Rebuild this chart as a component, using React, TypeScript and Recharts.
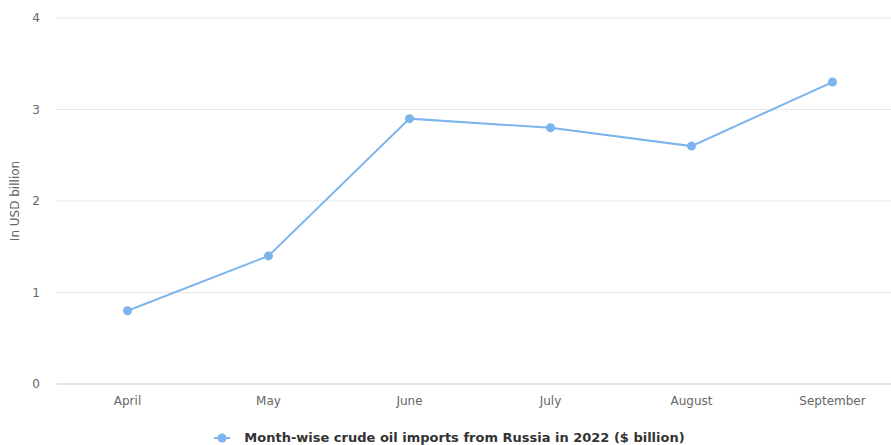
import { LineChart, Line, XAxis, YAxis, CartesianGrid, Legend } from "recharts";

const months = ["April", "May", "June", "July", "August", "September"];
const imports = [0.8, 1.4, 2.9, 2.8, 2.6, 3.3];
const yTicks = [0, 1, 2, 3, 4];
const seriesName = "Month-wise crude oil imports from Russia in 2022 ($ billion)";

const data = months.map((m, i) => ({ month: m, value: imports[i] }));

const FONT = '"DejaVu Sans", Verdana, sans-serif';
const BLUE = "#7cb5ec";

function LegendContent() {
  return (
    <div style={{ display: "flex", justifyContent: "center", alignItems: "center", fontFamily: FONT, paddingLeft: 8 }}>
      <svg width={24} height={12} style={{ marginRight: 6 }}>
        <line x1={0} y1={6} x2={16} y2={6} stroke={BLUE} strokeWidth={2} />
        <circle cx={8} cy={6} r={4.5} fill={BLUE} />
      </svg>
      <span style={{ fontSize: 13, fontWeight: "bold", color: "#333" }}>{seriesName}</span>
    </div>
  );
}

function YLabel(props: any) {
  const vb = props.viewBox;
  const cy = vb.y + vb.height / 2;
  return (
    <text x={15} y={cy} transform={`rotate(-90, 15, ${cy})`} textAnchor="middle" dominantBaseline="central"
      fill="#666" fontSize={12} fontFamily={FONT}>
      In USD billion
    </text>
  );
}

export default function App() {
  return (
    <div style={{ position: "absolute", left: 0, top: 0, width: 891, height: 445, overflow: "hidden", background: "#fff" }}>
      <LineChart width={903} height={445} data={data} margin={{ top: 18, right: 0, bottom: 0, left: 0 }}>
        <CartesianGrid vertical={false} stroke="#e6e6e6" />
        <XAxis dataKey="month" scale="band" height={41} tickLine={false} tickSize={0} tickMargin={12}
          axisLine={{ stroke: "#ccd6eb" }}
          tick={{ fill: "#666", fontSize: 12, fontFamily: FONT }} interval={0} />
        <YAxis width={57} domain={[0, 4]} ticks={yTicks} tickLine={false} axisLine={false} tickSize={0}
          tickMargin={17} tick={{ fill: "#666", fontSize: 12, fontFamily: FONT }}
          label={{ content: YLabel }} />
        <Legend verticalAlign="bottom" height={20} content={LegendContent}
          wrapperStyle={{ bottom: -5, left: 0, width: 891 }} />
        <Line type="linear" dataKey="value" name={seriesName} stroke={BLUE} strokeWidth={2}
          dot={{ r: 4.5, fill: BLUE, stroke: BLUE, strokeWidth: 0 }} activeDot={false}
          isAnimationActive={false} />
      </LineChart>
    </div>
  );
}
